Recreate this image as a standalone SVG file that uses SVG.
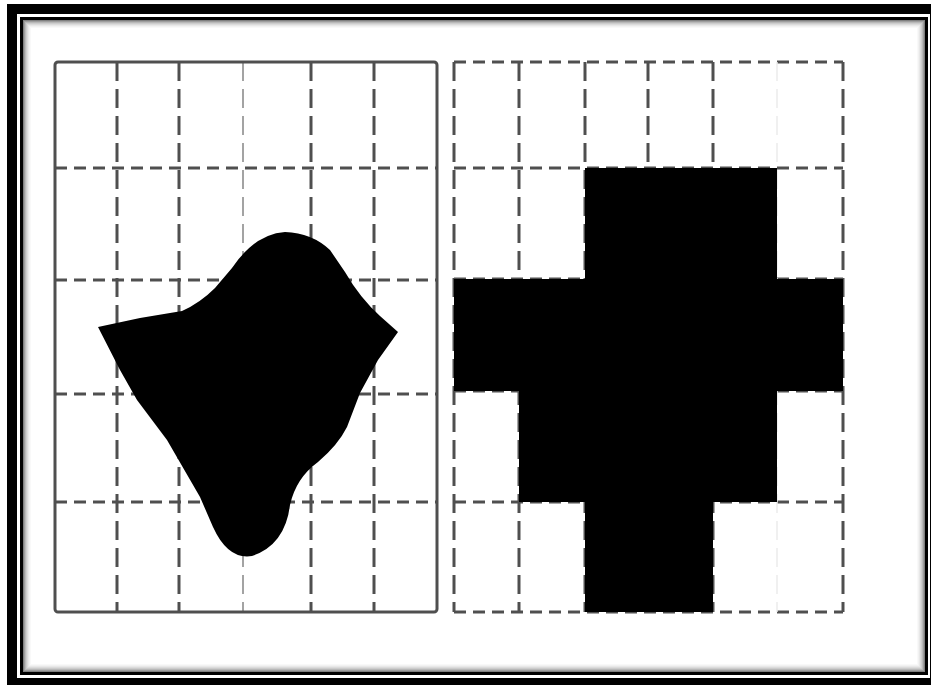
<svg xmlns="http://www.w3.org/2000/svg" width="931" height="685" viewBox="0 0 931 685">
  <defs>
    <style>
      .grid { fill: none; stroke: #505050; stroke-width: 3; }
      .v { stroke-dasharray: 19 8; }
      .h { stroke-dasharray: 12 7; }
      .faint { stroke: #9a9a9a; stroke-width: 1.8; }
      .vfaint { stroke: #ececec; stroke-width: 1.5; }
      .sh { fill: none; stroke: #000; stroke-width: 1; }
      .ink { fill: #000; }
    </style>
    <filter id="soft" x="-2%" y="-2%" width="104%" height="104%">
      <feGaussianBlur stdDeviation="0.7"/>
    </filter>
  </defs>
  <rect width="931" height="685" fill="#ffffff"/>
  <g id="frame">
    <rect x="7" y="4" width="924" height="681" fill="#000"/>
    <rect x="17" y="14" width="913" height="664" fill="#fff"/>
    <rect x="20" y="17" width="908" height="658" fill="#000"/>
    <rect x="23" y="20" width="902" height="652" fill="#fff"/>
    <rect class="sh" x="23.5" y="20.5" width="901" height="651" stroke-opacity="0.5"/>
    <rect class="sh" x="24.5" y="21.5" width="899" height="649" stroke-opacity="0.38"/>
    <rect class="sh" x="25.5" y="22.5" width="897" height="647" stroke-opacity="0.28"/>
    <rect class="sh" x="26.5" y="23.5" width="895" height="645" stroke-opacity="0.2"/>
    <rect class="sh" x="27.5" y="24.5" width="893" height="643" stroke-opacity="0.14"/>
    <rect class="sh" x="28.5" y="25.5" width="891" height="641" stroke-opacity="0.09"/>
    <rect class="sh" x="29.5" y="26.5" width="889" height="639" stroke-opacity="0.05"/>
    <rect class="sh" x="30.5" y="27.5" width="887" height="637" stroke-opacity="0.025"/>
  </g>
  <g id="left-grid" filter="url(#soft)">
    <line class="grid h" x1="55" y1="168" x2="437" y2="168"/>
    <line class="grid h" x1="55" y1="280" x2="437" y2="280"/>
    <line class="grid h" x1="55" y1="394" x2="437" y2="394"/>
    <line class="grid h" x1="55" y1="502" x2="437" y2="502"/>
    <line class="grid v" x1="117" y1="62" x2="117" y2="612"/>
    <line class="grid v" x1="179" y1="62" x2="179" y2="612"/>
    <line class="grid v faint" x1="243" y1="62" x2="243" y2="612"/>
    <line class="grid v" x1="311" y1="62" x2="311" y2="612"/>
    <line class="grid v" x1="374" y1="62" x2="374" y2="612"/>
    <rect class="grid" x="55" y="62" width="382" height="550" rx="3" stroke="#6a6a6a" stroke-width="2.5"/>
  </g>
  <g id="blob" filter="url(#soft)">
    <path class="ink" d="M98,327 L140,318 L182,311 Q200,303 215,288 L232,268 Q255,234 285,232 Q312,233 330,250 L345,272 Q360,298 380,316 L398,332 L378,360 L360,393 L347,427 Q338,445 318,462 Q296,478 290,505 Q285,545 252,556 Q228,560 213,527 L200,497 L167,440 L137,400 L120,370 Z"/>
  </g>
  <g id="right-grid" filter="url(#soft)">
    <line class="grid h" x1="454" y1="62" x2="843" y2="62"/>
    <line class="grid h" x1="454" y1="168" x2="843" y2="168"/>
    <line class="grid h" x1="454" y1="279" x2="843" y2="279"/>
    <line class="grid h" x1="454" y1="391" x2="843" y2="391"/>
    <line class="grid h" x1="454" y1="502" x2="843" y2="502"/>
    <line class="grid h" x1="454" y1="612" x2="843" y2="612" stroke="#8a8a8a"/>
    <line class="grid v" x1="454" y1="62" x2="454" y2="612"/>
    <line class="grid v" x1="519" y1="62" x2="519" y2="612"/>
    <line class="grid v" x1="585" y1="62" x2="585" y2="612"/>
    <line class="grid v" x1="648" y1="62" x2="648" y2="612"/>
    <line class="grid v" x1="713" y1="62" x2="713" y2="612"/>
    <line class="grid v vfaint" x1="777" y1="62" x2="777" y2="612"/>
    <line class="grid v" x1="843" y1="62" x2="843" y2="612"/>
  </g>
  <g id="cross" filter="url(#soft)">
    <path class="ink" d="M585,168 H777 V279 H843 V391 H777 V502 H713 V612 H585 V502 H519 V391 H454 V279 H585 Z"/>
  </g>
</svg>
